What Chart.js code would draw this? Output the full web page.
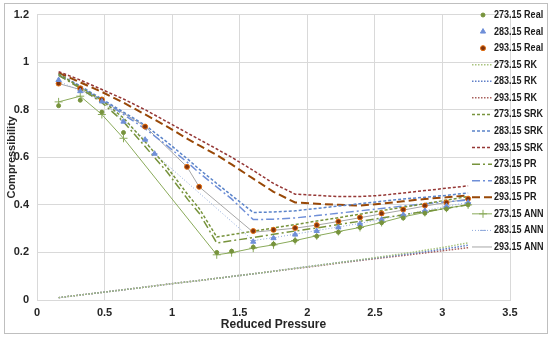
<!DOCTYPE html>
<html>
<head>
<meta charset="utf-8">
<script src="https://cdn.jsdelivr.net/npm/chart.js@4"></script>
<style>
  html, body { margin: 0; padding: 0; background: #fff; }
  #wrap { width: 550px; height: 338px; position: relative; }
</style>
</head>
<body>
<div id="wrap"><canvas id="chart" width="550" height="338"></canvas></div>
<script>
// reduced pressure grid used by the equations of state
let prGrid = [0.16, 0.32, 0.48, 0.64, 0.80, 0.96, 1.12, 1.20, 1.33, 1.44, 1.60, 1.75, 1.91, 2.07, 2.23, 2.39, 2.55, 2.71, 2.87, 3.03, 3.19];

let rk273 = [0.010, 0.021, 0.032, 0.043, 0.054, 0.066, 0.077, 0.082, 0.091, 0.099, 0.110, 0.121, 0.133, 0.145, 0.157, 0.169, 0.182, 0.195, 0.209, 0.224, 0.240];
let rk283 = [0.010, 0.021, 0.032, 0.043, 0.054, 0.066, 0.077, 0.082, 0.091, 0.099, 0.110, 0.121, 0.133, 0.145, 0.157, 0.168, 0.180, 0.191, 0.203, 0.216, 0.230];
let rk293 = [0.010, 0.021, 0.032, 0.043, 0.054, 0.066, 0.077, 0.082, 0.091, 0.099, 0.110, 0.121, 0.132, 0.143, 0.155, 0.166, 0.177, 0.187, 0.198, 0.209, 0.220];

let srk273 = [0.950, 0.895, 0.840, 0.765, 0.665, 0.560, 0.440, 0.385, 0.265, 0.275, 0.289, 0.303, 0.317, 0.332, 0.346, 0.361, 0.376, 0.390, 0.405, 0.420, 0.435];
let srk283 = [0.950, 0.900, 0.845, 0.790, 0.735, 0.665, 0.590, 0.550, 0.490, 0.440, 0.368, 0.370, 0.375, 0.385, 0.395, 0.405, 0.415, 0.425, 0.432, 0.440, 0.450];
let srk293 = [0.960, 0.925, 0.885, 0.845, 0.800, 0.750, 0.700, 0.675, 0.635, 0.600, 0.545, 0.490, 0.445, 0.440, 0.435, 0.435, 0.440, 0.450, 0.460, 0.470, 0.480];

let pr273 = [0.945, 0.890, 0.830, 0.750, 0.645, 0.540, 0.420, 0.365, 0.240, 0.249, 0.263, 0.276, 0.290, 0.303, 0.317, 0.331, 0.345, 0.358, 0.372, 0.386, 0.400];
let pr283 = [0.945, 0.895, 0.840, 0.780, 0.720, 0.650, 0.575, 0.535, 0.475, 0.425, 0.338, 0.340, 0.345, 0.355, 0.365, 0.375, 0.385, 0.395, 0.405, 0.413, 0.420];
let pr293 = [0.955, 0.915, 0.875, 0.830, 0.780, 0.730, 0.675, 0.650, 0.610, 0.570, 0.510, 0.455, 0.410, 0.405, 0.400, 0.397, 0.405, 0.415, 0.425, 0.432, 0.440];

// measured points and ANN predictions
let pr273Real = [0.16, 0.32, 0.48, 0.64, 1.33, 1.44, 1.60, 1.75, 1.91, 2.07, 2.23, 2.39, 2.55, 2.71, 2.87, 3.03, 3.19];
let real273 = [0.817, 0.840, 0.790, 0.704, 0.200, 0.205, 0.222, 0.235, 0.250, 0.268, 0.285, 0.305, 0.325, 0.345, 0.365, 0.383, 0.400];
let ann273 = [0.833, 0.857, 0.780, 0.680, 0.190, 0.199, 0.218, 0.232, 0.250, 0.270, 0.288, 0.305, 0.326, 0.350, 0.368, 0.386, 0.400];

let pr283Real = [0.16, 0.32, 0.48, 0.64, 0.80, 0.87, 1.60, 1.75, 1.91, 2.07, 2.23, 2.39, 2.55, 2.71, 2.87, 3.03, 3.19];
let real283 = [0.925, 0.878, 0.835, 0.750, 0.674, 0.615, 0.245, 0.260, 0.275, 0.290, 0.305, 0.320, 0.338, 0.358, 0.375, 0.395, 0.410];
let ann283 = [0.920, 0.880, 0.835, 0.755, 0.675, 0.615, 0.250, 0.262, 0.277, 0.292, 0.307, 0.322, 0.340, 0.358, 0.376, 0.394, 0.410];

let pr293Real = [0.16, 0.32, 0.48, 0.80, 1.11, 1.20, 1.60, 1.75, 1.91, 2.07, 2.23, 2.39, 2.55, 2.71, 2.87, 3.03, 3.19];
let real293 = [0.910, 0.890, 0.843, 0.729, 0.560, 0.476, 0.290, 0.295, 0.303, 0.315, 0.330, 0.347, 0.364, 0.380, 0.397, 0.410, 0.426];
let ann293 = [0.910, 0.885, 0.840, 0.730, 0.560, 0.476, 0.285, 0.293, 0.302, 0.315, 0.330, 0.346, 0.362, 0.378, 0.395, 0.410, 0.425];

let xTicks = { min: 0, max: 3.5, step: 0.5 };
let yTicks = { min: 0, max: 1.2, step: 0.2 };

function pts(xs, ys) {
  return xs.map((x, i) => ({ x: x, y: ys[i] }));
}

function real(label, xs, ys, color, border, style, r) {
  return {
    label: label, data: pts(xs, ys), showLine: false,
    pointStyle: style, pointRadius: r, pointBackgroundColor: color,
    pointBorderColor: border, pointBorderWidth: 1,
    borderColor: color, backgroundColor: color,
  };
}

function curve(label, ys, color, dash, width) {
  return {
    label: label, data: pts(prGrid, ys), showLine: true,
    borderColor: color, backgroundColor: color, borderDash: dash,
    borderWidth: width, pointRadius: 0, tension: 0,
  };
}

function ann(label, xs, ys, color, dash, style, r) {
  return {
    label: label, data: pts(xs, ys), showLine: true,
    borderColor: color, backgroundColor: color, borderDash: dash,
    borderWidth: 1, pointStyle: style, pointRadius: r,
    pointBorderColor: color, pointBorderWidth: 1, tension: 0,
  };
}

let datasets = [
  real("273.15 Real", pr273Real, real273, "#77933C", "#77933C", "circle", 2),
  real("283.15 Real", pr283Real, real283, "#6F8FD8", "#6F8FD8", "triangle", 3),
  real("293.15 Real", pr293Real, real293, "#7F3410", "#E46C0A", "circle", 2.5),
  curve("273.15 RK", rk273, "#A9C47F", [1.5, 1.5], 1.5),
  curve("283.15 RK", rk283, "#5F7FC8", [1.5, 1.5], 1.5),
  curve("293.15 RK", rk293, "#A8605C", [1.5, 1.5], 1.5),
  curve("273.15 SRK", srk273, "#77933C", [3, 2], 1.5),
  curve("283.15 SRK", srk283, "#5B84C9", [3, 2], 1.5),
  curve("293.15 SRK", srk293, "#953735", [3, 2], 1.5),
  curve("273.15 PR", pr273, "#77933C", [8, 3, 2, 3], 1.5),
  curve("283.15 PR", pr283, "#6F8FD8", [8, 3, 2, 3], 1.5),
  curve("293.15 PR", pr293, "#984807", [8, 4], 2),
  ann("273.15 ANN", pr273Real, ann273, "#8AAA5A", [], "cross", 4),
  ann("283.15 ANN", pr283Real, ann283, "#8EA9DB", [1, 2], "line", 3),
  ann("293.15 ANN", pr293Real, ann293, "#A6A6A6", [], false, 0),
];

// legend drawn over the right side of the plot, like the original
let sideLegend = {
  id: "sideLegend",
  afterDraw(chart) {
    let ctx = chart.ctx;
    ctx.save();
    chart.data.datasets.forEach((ds, i) => {
      let y = 15 + i * 16.57;
      if (ds.showLine) {
        ctx.beginPath();
        ctx.strokeStyle = ds.borderColor;
        ctx.lineWidth = ds.borderWidth;
        ctx.setLineDash(ds.borderDash || []);
        ctx.moveTo(472, y);
        ctx.lineTo(492, y);
        ctx.stroke();
        ctx.setLineDash([]);
      }
      if (ds.pointStyle && ds.pointRadius) {
        ctx.fillStyle = ds.pointBackgroundColor || ds.borderColor;
        ctx.strokeStyle = ds.pointBorderColor || ds.borderColor;
        ctx.lineWidth = 1;
        Chart.helpers.drawPoint(ctx, {
          pointStyle: ds.pointStyle, radius: ds.pointRadius, borderWidth: 1, rotation: 0,
        }, 483, y);
      }
      ctx.fillStyle = "#1A1A1A";
      ctx.font = "bold 11px 'Liberation Sans', Arial, sans-serif";
      ctx.textAlign = "left";
      ctx.textBaseline = "middle";
      let w = ctx.measureText(ds.label).width;
      ctx.fillText(ds.label, 494, y, w * 0.82);
    });
    // outer frame
    ctx.strokeStyle = "#BFBFBF";
    ctx.lineWidth = 1;
    ctx.strokeRect(4.5, 3.5, 543, 330);
    ctx.restore();
  },
};

let tickFont = { family: "'Liberation Sans', Arial, sans-serif", size: 11, weight: "bold" };
let fmt = (v) => String(+v.toFixed(2));

new Chart(document.getElementById("chart").getContext("2d"), {
  type: "scatter",
  data: { datasets: datasets },
  options: {
    responsive: false,
    animation: false,
    layout: { padding: { left: 0, top: 10, right: 40, bottom: 0 } },
    plugins: { legend: { display: false }, tooltip: { enabled: false } },
    scales: {
      x: {
        type: "linear", min: xTicks.min, max: xTicks.max,
        ticks: { stepSize: xTicks.step, font: tickFont, color: "#262626", padding: 6, callback: fmt },
        grid: { color: "#D9D9D9", drawTicks: false },
        border: { color: "#D9D9D9" },
        title: {
          display: true, text: "Reduced Pressure", color: "#262626",
          font: { family: "'Liberation Sans', Arial, sans-serif", size: 12, weight: "bold" },
          padding: { top: 2, bottom: 6 },
        },
        afterFit(scale) { scale.height = 38; },
      },
      y: {
        type: "linear", min: yTicks.min, max: yTicks.max,
        ticks: { stepSize: yTicks.step, font: tickFont, color: "#262626", padding: 8, callback: fmt },
        grid: { color: "#D9D9D9", drawTicks: false },
        border: { color: "#D9D9D9" },
        title: {
          display: true, text: "Compressibility", color: "#262626",
          font: { family: "'Liberation Sans', Arial, sans-serif", size: 11, weight: "bold" },
          padding: { top: 5, bottom: 0 },
        },
        afterFit(scale) { scale.width = 37; },
      },
    },
  },
  plugins: [sideLegend],
});
</script>
</body>
</html>
